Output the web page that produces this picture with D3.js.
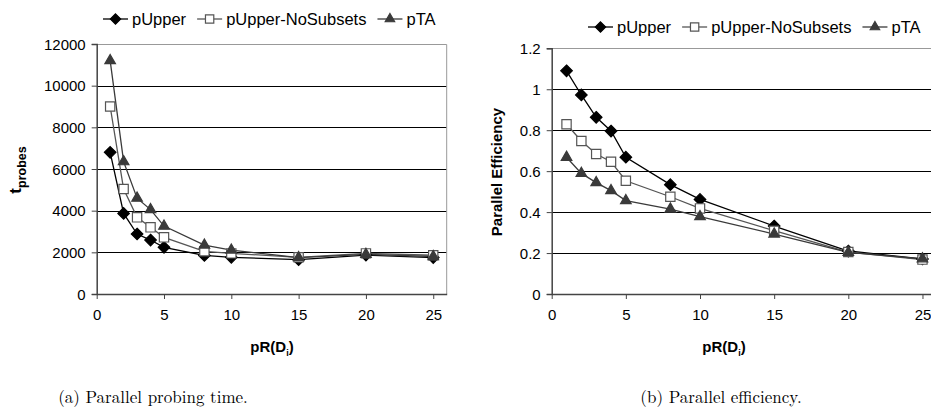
<!doctype html>
<html lang="en">
<head>
<meta charset="utf-8">
<title>Parallel probing</title>
<script src="https://d3js.org/d3.v7.min.js"></script>
<style>
  body { margin: 0; background: #fff; }
  svg { display: block; }
  .tick text { font-family: "Liberation Sans", Arial, sans-serif; font-size: 15px; fill: #000; }
  .legend text { font-family: "Liberation Sans", Arial, sans-serif; font-size: 16.5px; fill: #000; }
  .title { font-family: "Liberation Sans", Arial, sans-serif; font-weight: bold; fill: #000; }
  .caption { font-family: "Latin Modern Roman", "DejaVu Serif", "Liberation Serif", serif; font-size: 17px; fill: #000; }
</style>
</head>
<body>
<svg width="931" height="419"></svg>
<script>
// x values (pR(D_i)) shared by both panels
var xVals = [1, 2, 3, 4, 5, 8, 10, 15, 20, 25];
var seriesNames = ["pUpper", "pUpper-NoSubsets", "pTA"];

// (a) parallel probing time
var probesUpper     = [6800, 3870, 2880, 2590, 2240, 1850, 1760, 1650, 1870, 1750];
var probesNoSubsets = [9000, 5040, 3680, 3200, 2720, 2050, 1950, 1760, 1950, 1860];
var probesTA        = [11200, 6350, 4600, 4050, 3260, 2350, 2110, 1750, 1900, 1800];
var probesTicks = [0, 2000, 4000, 6000, 8000, 10000, 12000];

// (b) parallel efficiency
var effUpper     = [1.09, 0.972, 0.863, 0.796, 0.668, 0.534, 0.462, 0.332, 0.21, 0.171];
var effNoSubsets = [0.829, 0.747, 0.684, 0.646, 0.553, 0.475, 0.418, 0.309, 0.205, 0.168];
var effTA        = [0.668, 0.589, 0.544, 0.505, 0.456, 0.415, 0.378, 0.293, 0.203, 0.172];
var effTicks = [0, 0.2, 0.4, 0.6, 0.8, 1, 1.2];

var xTicks = [0, 5, 10, 15, 20, 25];

var lineColors = ["#000", "#555", "#3a3a3a"];
var symbols = [d3.symbolDiamond2, d3.symbolSquare2, d3.symbolTriangle2];
var fills = ["#000", "#fff", "#3a3a3a"];
var strokes = ["#000", "#555", "#3a3a3a"];
var sizes = [85, 110, 80];

var svg = d3.select("svg");

function drawPanel(cfg) {
    var g = svg.append("g");
    var x = d3.scaleLinear().domain([0, 26]).range([cfg.left, cfg.right]);
    var y = d3.scaleLinear().domain([0, cfg.ticks[cfg.ticks.length - 1]]).range([cfg.bottom, cfg.top]);

    // gridlines (black) between axis and top border
    g.append("g").selectAll("line")
        .data(cfg.ticks.slice(1, -1))
        .enter().append("line")
        .attr("x1", cfg.left).attr("x2", cfg.right)
        .attr("y1", function(d) { return Math.round(y(d)) + 0.5; })
        .attr("y2", function(d) { return Math.round(y(d)) + 0.5; })
        .attr("stroke", "#000").attr("stroke-width", 1.2);

    // top and right border
    g.append("path")
        .attr("d", "M" + cfg.left + "," + (Math.round(cfg.top) + 0.5) + "H" + cfg.right + "V" + cfg.bottom)
        .attr("fill", "none").attr("stroke", "#999").attr("stroke-width", 1);

    var yAxis = g.append("g")
        .attr("transform", "translate(" + cfg.left + ",0)")
        .call(d3.axisLeft(y).tickValues(cfg.ticks).tickSize(5).tickPadding(6)
            .tickFormat(function(d) { return d3.format("")(d); }));
    var xAxis = g.append("g")
        .attr("transform", "translate(0," + cfg.bottom + ")")
        .call(d3.axisBottom(x).tickValues(xTicks).tickSize(5).tickPadding(10).tickSizeOuter(0));
    [yAxis, xAxis].forEach(function(a) {
        a.select(".domain").attr("stroke", "#444").attr("stroke-width", 1.5);
        a.selectAll(".tick line").attr("stroke", "#444");
    });
    yAxis.selectAll(".tick text").attr("dy", "0.35em");

    var line = d3.line()
        .x(function(d) { return x(d.x); })
        .y(function(d) { return y(d.y); });

    cfg.series.forEach(function(vals, i) {
        var pts = xVals.map(function(v, j) { return {x: v, y: vals[j]}; });
        g.append("path")
            .datum(pts)
            .attr("fill", "none")
            .attr("stroke", lineColors[i])
            .attr("stroke-width", 1.3)
            .attr("d", line);
    });
    cfg.series.forEach(function(vals, i) {
        var pts = xVals.map(function(v, j) { return {x: v, y: vals[j]}; });
        g.append("g").selectAll("path")
            .data(pts)
            .enter().append("path")
            .attr("transform", function(d) { return "translate(" + x(d.x) + "," + y(d.y) + ")"; })
            .attr("d", d3.symbol().type(symbols[i]).size(sizes[i]))
            .attr("fill", fills[i])
            .attr("stroke", strokes[i])
            .attr("stroke-width", 1.2);
    });

    // legend
    var lg = g.append("g").attr("class", "legend");
    var lx = cfg.legendX;
    seriesNames.forEach(function(name, i) {
        lg.append("line")
            .attr("x1", lx).attr("x2", lx + 25)
            .attr("y1", cfg.legendY).attr("y2", cfg.legendY)
            .attr("stroke", lineColors[i]).attr("stroke-width", 1.3);
        lg.append("path")
            .attr("transform", "translate(" + (lx + 12.5) + "," + cfg.legendY + ")")
            .attr("d", d3.symbol().type(symbols[i]).size(sizes[i] * 0.8))
            .attr("fill", fills[i]).attr("stroke", strokes[i]).attr("stroke-width", 1.2);
        var t = lg.append("text")
            .attr("x", lx + 29).attr("y", cfg.legendY)
            .attr("dy", "0.35em")
            .text(name);
        lx += 29 + t.node().getComputedTextLength() + 11;
    });

    // x title pR(D_i)
    var xt = g.append("text").attr("class", "title")
        .attr("x", cfg.xTitleX).attr("y", 352)
        .attr("text-anchor", "middle").style("font-size", "15px");
    xt.append("tspan").text("pR(D");
    xt.append("tspan").attr("dy", 4).style("font-size", "9px").text("i");
    xt.append("tspan").attr("dy", -4).text(")");

    // caption
    g.append("text").attr("class", "caption")
        .attr("x", cfg.captionX).attr("y", 403)
        .attr("text-anchor", "middle")
        .text(cfg.caption);

    return g;
}

drawPanel({
    left: 96.7, right: 446.7, top: 44, bottom: 294,
    ticks: probesTicks,
    series: [probesUpper, probesNoSubsets, probesTA],
    legendX: 103, legendY: 19,
    xTitleX: 272, captionX: 153,
    caption: "(a) Parallel probing time."
});

drawPanel({
    left: 551.7, right: 937.3, top: 48.3, bottom: 294,
    ticks: effTicks,
    series: [effUpper, effNoSubsets, effTA],
    legendX: 588, legendY: 27,
    xTitleX: 724, captionX: 721,
    caption: "(b) Parallel efficiency."
});

// y titles
var yt = svg.append("text").attr("class", "title")
    .attr("transform", "translate(21,170) rotate(-90)")
    .attr("text-anchor", "middle");
yt.append("tspan").style("font-size", "17px").text("t");
yt.append("tspan").attr("dy", 5).style("font-size", "12.5px").text("probes");

svg.append("text").attr("class", "title")
    .attr("transform", "translate(502,172) rotate(-90)")
    .attr("text-anchor", "middle")
    .style("font-size", "15px")
    .text("Parallel Efficiency");
</script>
</body>
</html>
